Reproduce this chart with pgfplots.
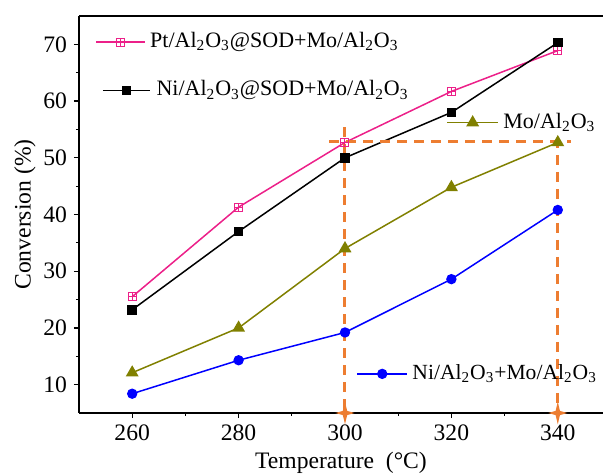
\documentclass[border=0pt]{standalone}
\usepackage{fontspec}
\setmainfont{Liberation Serif}
\usepackage{pgfplots}
\pgfplotsset{compat=1.18}
\definecolor{pinkc}{RGB}{236,32,137}
\definecolor{olivec}{RGB}{128,128,0}
\definecolor{bluec}{RGB}{0,0,255}
\definecolor{orangec}{RGB}{237,125,49}
\pgfdeclareplotmark{boxplus}{%
  \pgfpathrectangle{\pgfqpoint{-\pgfplotmarksize}{-\pgfplotmarksize}}{\pgfqpoint{2\pgfplotmarksize}{2\pgfplotmarksize}}%
  \pgfpathmoveto{\pgfqpoint{-\pgfplotmarksize}{0pt}}\pgfpathlineto{\pgfqpoint{\pgfplotmarksize}{0pt}}%
  \pgfpathmoveto{\pgfqpoint{0pt}{-\pgfplotmarksize}}\pgfpathlineto{\pgfqpoint{0pt}{\pgfplotmarksize}}%
  \pgfusepathqstroke}
\pgfdeclareplotmark{star4}{%
  \pgfpathmoveto{\pgfqpoint{0pt}{1.5\pgfplotmarksize}}%
  \pgfpathlineto{\pgfqpoint{0.28\pgfplotmarksize}{0.28\pgfplotmarksize}}%
  \pgfpathlineto{\pgfqpoint{1.25\pgfplotmarksize}{0pt}}%
  \pgfpathlineto{\pgfqpoint{0.28\pgfplotmarksize}{-0.28\pgfplotmarksize}}%
  \pgfpathlineto{\pgfqpoint{0pt}{-1.5\pgfplotmarksize}}%
  \pgfpathlineto{\pgfqpoint{-0.28\pgfplotmarksize}{-0.28\pgfplotmarksize}}%
  \pgfpathlineto{\pgfqpoint{-1.25\pgfplotmarksize}{0pt}}%
  \pgfpathlineto{\pgfqpoint{-0.28\pgfplotmarksize}{0.28\pgfplotmarksize}}%
  \pgfpathclose\pgfusepathqfill}
\newcommand{\sub}[1]{\textsubscript{#1}}
\newcommand{\lfont}{\fontsize{11}{13}\selectfont}
\begin{document}
\begin{tikzpicture}
\begin{axis}[name=main, scale only axis, width=262pt, height=198.5pt,
  xmin=250, xmax=348.5, ymin=5, ymax=75,
  axis x line*=box, axis y line*=left,
  xtick={260,280,...,340}, ytick={10,20,...,70},
  minor x tick num=1, minor y tick num=1,
  tick align=outside, xtick pos=bottom, ytick pos=left,
  major tick length=2.5pt, minor tick length=1.5pt,
  tick style={black, line width=0.6pt}, axis line style={line width=0.6pt},
  ticklabel style={font=\fontsize{11.8}{13}\selectfont},
  /pgf/number format/assume math mode=true,
  xlabel={Temperature\ \ (°C)}, ylabel={Conversion (\%)},
  label style={font=\fontsize{11.8}{13}\selectfont},
  xlabel style={at={(axis description cs:0.5,-0.126)}, anchor=center},
  ylabel style={at={(axis description cs:-0.103,0.5)}, anchor=center},
  clip=false]
% data
\addplot[pinkc, line width=0.75pt, mark=boxplus, mark size=2pt, mark options={line width=0.5pt}]
  coordinates {(260,25.5) (280,41.3) (300,52.7) (320,61.7) (340,68.9)};
\addplot[black, line width=0.75pt, mark=square*, mark size=2pt]
  coordinates {(260,23.2) (280,37.0) (300,50.0) (320,58.0) (340,70.3)};
\addplot[olivec, line width=0.75pt, mark=triangle*, mark size=3pt]
  coordinates {(260,12.1) (280,20.0) (300,34.0) (320,44.8) (340,52.7)};
\addplot[bluec, line width=0.75pt, mark=*, mark size=2.2pt]
  coordinates {(260,8.4) (280,14.3) (300,19.2) (320,28.6) (340,40.8)};
% orange guide lines
\addplot[orangec, line width=1.5pt, dash pattern=on 5pt off 3.5pt]
  coordinates {(300,55.4) (300,5)};
\addplot[orangec, line width=1.5pt, dash pattern=on 5pt off 3.5pt]
  coordinates {(297,52.8) (342.5,52.8)};
\addplot[orangec, line width=1.5pt, dash pattern=on 5pt off 3.5pt]
  coordinates {(340,53.5) (340,5)};
\addplot[orangec, only marks, mark=star4, mark size=3.8pt]
  coordinates {(300,5) (340,5)};
% legend samples
\addplot[pinkc, line width=0.75pt, mark=boxplus, mark size=2pt, mark indices={2}, mark options={line width=0.5pt}]
  coordinates {(253.2,70.4) (257.8,70.4) (262.4,70.4)};
\node[anchor=west, inner sep=0pt, font=\lfont] at (axis cs:263.3,70.4) {Pt/Al\sub{2}O\sub{3}@SOD+Mo/Al\sub{2}O\sub{3}};
\addplot[black, line width=0.75pt, mark=square*, mark size=2pt, mark indices={2}]
  coordinates {(254.5,61.9) (258.9,61.9) (263.3,61.9)};
\node[anchor=west, inner sep=0pt, font=\lfont] at (axis cs:264.5,61.9) {Ni/Al\sub{2}O\sub{3}@SOD+Mo/Al\sub{2}O\sub{3}};
\addplot[olivec, line width=0.75pt, mark=triangle*, mark size=3pt, mark indices={2}]
  coordinates {(319.2,56.2) (324.0,56.2) (328.8,56.2)};
\node[anchor=west, inner sep=0pt, font=\lfont] at (axis cs:329.7,56.2) {Mo/Al\sub{2}O\sub{3}};
\addplot[bluec, line width=0.75pt, mark=*, mark size=2.2pt, mark indices={2}]
  coordinates {(302.3,11.9) (307.0,11.9) (311.7,11.9)};
\node[anchor=west, inner sep=0pt, font=\fontsize{10.8}{13}\selectfont] at (axis cs:312.6,11.9) {Ni/Al\sub{2}O\sub{3}+Mo/Al\sub{2}O\sub{3}};
\end{axis}
\pgfresetboundingbox
\path ([shift={(-39.5pt,-31pt)}]main.south west) rectangle ([shift={(0pt,8pt)}]main.north east);
\end{tikzpicture}
\end{document}
